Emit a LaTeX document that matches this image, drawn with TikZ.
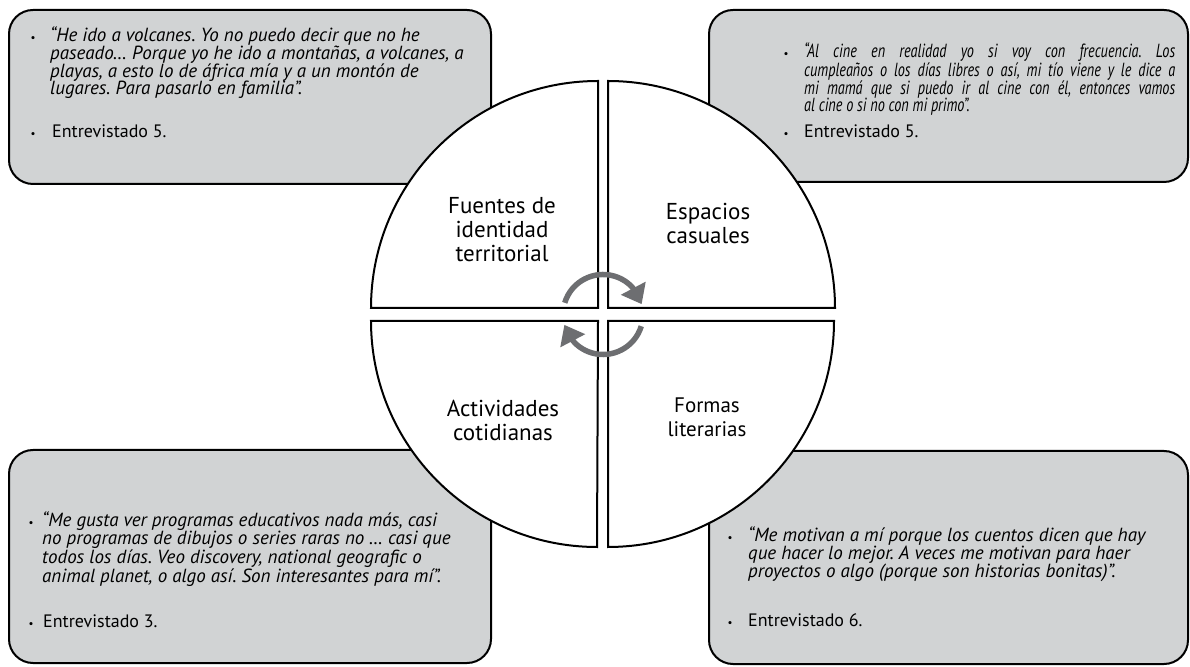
\documentclass[tikz,border=0pt]{standalone}
\usepackage{fontspec}
\setmainfont{PT Sans}
\newfontfamily\condfont[FakeStretch=0.75]{PT Sans}
\usetikzlibrary{arrows.meta,bending}
\definecolor{boxgray}{HTML}{D1D3D4}
\definecolor{arrgray}{HTML}{6D6E71}
\frenchspacing
\begin{document}
\begin{tikzpicture}[x=1pt,y=1pt,
  quotebox/.style={draw=black, fill=boxgray, line width=2pt, rounded corners=24pt},
  quad/.style={draw=black, fill=white, line width=2pt},
  cyc/.style={draw=arrgray, line width=5.5pt, -{Triangle[width=27pt,length=18pt,flex]}},
  catlabel/.style={font=\fontsize{23}{24}\selectfont, align=center, inner sep=0pt},
  qtext/.style={anchor=base west, inner sep=0pt, font=\fontsize{19}{17.6}\selectfont\itshape},
  itext/.style={anchor=base west, inner sep=0pt, font=\fontsize{18}{18}\selectfont},
  bul/.style={anchor=base, inner sep=0pt, font=\fontsize{11}{12}\selectfont}
]
\useasboundingbox (0,0) rectangle (1190,666);

% quote boxes
\path[quotebox] (9,482) rectangle (491,656);
\path[quotebox] (709,484) rectangle (1188,656);
\path[quotebox] (9,3) rectangle (491,216);
\path[quotebox] (709,2) rectangle (1188,215);

% circle quadrants
\path[quad] (598,358) -- (371,358) arc[start angle=180, end angle=90, radius=227] -- cycle;
\path[quad] (608,358) -- (608,585) arc[start angle=90, end angle=0, radius=227] -- cycle;
\path[quad] (598,345) -- (371,345) arc[start angle=180, end angle=270, radius=226] -- cycle;
\path[quad] (608,345) -- (834,345) arc[start angle=0, end angle=-90, radius=226] -- cycle;

% cycle arrows
\coordinate (c) at (603,351.5);
\draw[cyc] (c) ++(163:40) arc[start angle=163, end angle=15, radius=40];
\draw[cyc] (c) ++(-17:40) arc[start angle=-17, end angle=-165, radius=40];

% circle labels
\node[catlabel] (l1) at (502,436) {Fuentes de\\identidad\\territorial};
\node[catlabel] (l2) at (708,442) {Espacios\\casuales};
\node[catlabel] (l3) at (503,246) {Actividades\\cotidianas};
\node[catlabel, font=\fontsize{21}{24}\selectfont] (l4) at (707,249) {Formas\\literarias};

% top-left box
\node[bul] (b1) at (33,624) {•};
\node[qtext] (q1) at (50,624) {\parbox[t]{440pt}{\raggedright “He ido a volcanes. Yo no puedo decir que no he\\paseado… Porque yo he ido a montañas, a volcanes, a\\playas, a esto lo de áfrica mía y a un montón de\\lugares. Para pasarlo en familia”.}};
\node[bul] (b2) at (33,528) {•};
\node[itext] (e1) at (52,528) {Entrevistado 5.};

% top-right box
\node[bul] (b3) at (786,608) {•};
\node[qtext] (q2) at (804,608) {\parbox[t]{371pt}{\condfont\itshape “Al cine en realidad yo si voy con frecuencia. Los\linebreak cumpleaños o los días libres o así, mi tío viene y le dice a\linebreak mi mamá que si puedo ir al cine con él, entonces vamos\linebreak al cine o si no con mi primo”.}};
\node[bul] (b4) at (786,528) {•};
\node[itext] (e2) at (804,528) {Entrevistado 5.};

% bottom-left box
\node[bul] (b5) at (31,139) {•};
\node[qtext] (q3) at (42,139) {\parbox[t]{440pt}{\raggedright “Me gusta ver programas educativos nada más, casi\\no programas de dibujos o series raras no … casi que\\todos los días. Veo discovery, national geografic o\\animal planet, o algo así. Son interesantes para mí”.}};
\node[bul] (b6) at (31,38) {•};
\node[itext] (e3) at (43,38) {Entrevistado 3.};

% bottom-right box
\node[bul] (b7) at (730,124) {•};
\node[qtext] (q4) at (748,124) {\parbox[t]{430pt}{\raggedright “Me motivan a mí porque los cuentos dicen que hay\\que hacer lo mejor. A veces me motivan para haer\\proyectos o algo (porque son historias bonitas)”.}};
\node[bul] (b8) at (730,39) {•};
\node[itext] (e4) at (748,39) {Entrevistado 6.};
\end{tikzpicture}
\end{document}
